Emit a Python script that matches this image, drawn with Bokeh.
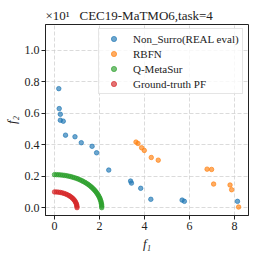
from bokeh.plotting import figure
from bokeh.models import Legend, LegendItem, FixedTicker, PrintfTickFormatter
from bokeh.embed import file_html
from bokeh.resources import INLINE

# Data (f2 shown in units of 10, i.e. x10^1)
nonsurro_f1 = [0.19, 0.21, 0.26, 0.26, 0.39, 0.49, 0.91, 1.19, 1.67, 1.87, 2.41,
               3.38, 3.42, 3.83, 4.28, 5.67, 5.77, 8.13]
nonsurro_f2 = [0.757, 0.63, 0.594, 0.556, 0.55, 0.461, 0.451, 0.413, 0.39, 0.349, 0.239,
               0.169, 0.156, 0.123, 0.053, 0.048, 0.04, 0.04]

rbfn_f1 = [3.62, 3.71, 3.87, 3.99, 4.30, 4.61, 6.78, 6.98, 7.07, 7.80, 7.87, 8.18]
rbfn_f2 = [0.417, 0.408, 0.381, 0.364, 0.319, 0.302, 0.245, 0.243, 0.150, 0.144, 0.114, 0.004]

qmeta_f1 = [0.0, 0.092, 0.183, 0.274, 0.365, 0.454, 0.543, 0.631, 0.718, 0.804, 0.887,
            0.970, 1.050, 1.128, 1.205, 1.278, 1.350, 1.419, 1.485, 1.548, 1.609,
            1.666, 1.720, 1.771, 1.819, 1.863, 1.903, 1.940, 1.973, 2.003, 2.028,
            2.050, 2.068, 2.082, 2.092, 2.098, 2.100]
qmeta_f2 = [0.210, 0.2098, 0.2092, 0.2082, 0.2068, 0.2050, 0.2028, 0.2003, 0.1973, 0.1940,
            0.1903, 0.1863, 0.1819, 0.1771, 0.1720, 0.1666, 0.1609, 0.1548, 0.1485,
            0.1419, 0.1350, 0.1278, 0.1205, 0.1128, 0.1050, 0.0970, 0.0887, 0.0804,
            0.0718, 0.0631, 0.0543, 0.0454, 0.0365, 0.0274, 0.0183, 0.0092, 0.0]

pf_f1 = [0.0, 0.087, 0.174, 0.259, 0.342, 0.423, 0.500, 0.574, 0.643, 0.707, 0.766,
         0.819, 0.866, 0.906, 0.940, 0.966, 0.985, 0.996, 1.000]
pf_f2 = [0.100, 0.0996, 0.0985, 0.0966, 0.0940, 0.0906, 0.0866, 0.0819, 0.0766, 0.0707,
         0.0643, 0.0574, 0.0500, 0.0423, 0.0342, 0.0259, 0.0174, 0.0087, 0.0]

x_ticks = [0, 2, 4, 6, 8]
y_ticks = [0.0, 0.2, 0.4, 0.6, 0.8, 1.0]

offset_text = "\u00d710\u00b9"
title_text = "CEC19-MaTMO6,task=4"
labels = ["Non_Surro(REAL eval)", "RBFN", "Q-MetaSur", "Ground-truth PF"]
colors = ["#1f77b4", "#ff7f0e", "#2ca02c", "#d62728"]

FONT = "Liberation Serif"

p = figure(width=254, height=254, x_range=(-0.4, 8.62), y_range=(-0.05, 1.165),
           output_backend="svg", toolbar_location=None,
           min_border_left=45, min_border_right=6, min_border_top=24, min_border_bottom=39)
p.background_fill_color = "white"
p.border_fill_color = "white"
p.outline_line_color = "#222222"
p.outline_line_width = 1

p.title.text = offset_text + "\u00a0\u00a0\u00a0" + title_text
p.title.align = "left"
p.title.offset = 0
p.title.standoff = 3
p.title.text_font = FONT
p.title.text_font_size = "13px"
p.title.text_font_style = "normal"
p.title.text_color = "#222222"

for ax in (p.xaxis[0], p.yaxis[0]):
    ax.axis_line_color = "#222222"
    ax.major_tick_line_color = "#222222"
    ax.major_tick_out = 4
    ax.major_tick_in = 0
    ax.minor_tick_out = 0
    ax.minor_tick_in = 0
    ax.major_label_text_font = FONT
    ax.major_label_text_font_size = "12px"
    ax.major_label_text_color = "#222222"
    ax.axis_label_text_font = FONT
    ax.axis_label_text_font_size = "13px"
    ax.axis_label_text_font_style = "italic"
    ax.axis_label_text_color = "#222222"
    ax.major_label_standoff = 2

p.xaxis[0].ticker = FixedTicker(ticks=x_ticks)
p.yaxis[0].ticker = FixedTicker(ticks=y_ticks)
p.xaxis[0].formatter = PrintfTickFormatter(format="%d")
p.yaxis[0].formatter = PrintfTickFormatter(format="%.1f")
p.xaxis[0].axis_label = "f\u2081"
p.yaxis[0].axis_label = "f\u2082"
p.xaxis[0].axis_label_standoff = 3
p.yaxis[0].axis_label_standoff = 3

p.xgrid.grid_line_color = "#cccccc"
p.ygrid.grid_line_color = "#cccccc"
p.xgrid.grid_line_dash = "4 2"
p.ygrid.grid_line_dash = "4 2"
p.xgrid.grid_line_alpha = 0.7
p.ygrid.grid_line_alpha = 0.7

series = [(nonsurro_f1, nonsurro_f2), (rbfn_f1, rbfn_f2), (qmeta_f1, qmeta_f2), (pf_f1, pf_f2)]
items = []
for (xs, ys), lab, c in zip(series, labels, colors):
    r = p.scatter(xs, ys, size=4.5, marker="circle", fill_color=c, line_color=c,
                  fill_alpha=0.65, line_alpha=0.65)
    items.append(LegendItem(label=lab, renderers=[r]))

legend = Legend(items=items, location=(53, 121))
legend.label_text_font = FONT
legend.label_text_font_size = "11px"
legend.label_text_color = "#222222"
legend.glyph_width = 23
legend.glyph_height = 13
legend.label_height = 13
legend.spacing = 2
legend.padding = 3
legend.margin = 0
legend.label_standoff = 8
legend.border_line_color = "#cccccc"
legend.border_line_width = 1
legend.background_fill_alpha = 0.8
p.add_layout(legend)

open("out.html", "w").write(file_html(p, INLINE))
